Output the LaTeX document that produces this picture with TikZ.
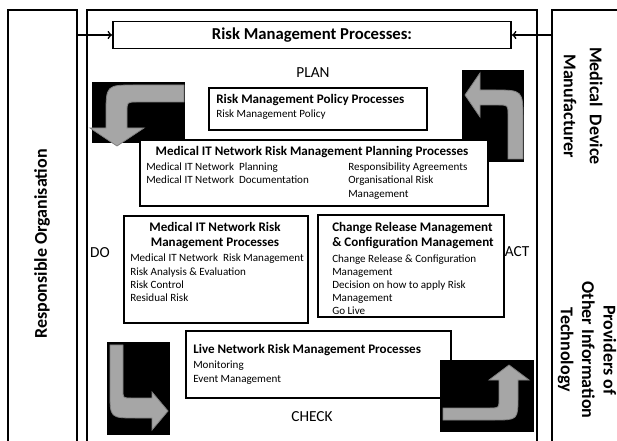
\documentclass[tikz,border=0pt]{standalone}
\usepackage{fontspec}
\setmainfont{Carlito}
\usetikzlibrary{arrows}

\begin{document}
\begin{tikzpicture}[x=0.75pt,y=-0.75pt,
  frame/.style={line width=1.4pt},
  box/.style={draw,line width=1.4pt,fill=white,inner sep=0pt,anchor=north west},
  blk/.style={fill=black},
  garrow/.style={fill=black!35,draw=black!50,line width=0.6pt},
  hd/.style={font=\bfseries\fontsize{9.8}{11.3}\selectfont,inner sep=0pt},
  txt/.style={font=\fontsize{8.3}{10.1}\selectfont,inner sep=0pt,align=left},
  lbl/.style={font=\fontsize{11.5}{13}\selectfont,inner sep=0pt},
  side/.style={font=\bfseries\fontsize{13.5}{16}\selectfont,inner sep=0pt,align=center}]

  \useasboundingbox (0,0) rectangle (617,441);

  \draw[frame] (8,446) -- (8,10) -- (77,10) -- (77,446);
  \draw[frame] (87,446) -- (87,10) -- (537,10) -- (537,446);
  \draw[frame] (552,446) -- (552,10) -- (625,10);

  \node[side,rotate=90] (resp) at (42,244) {Responsible Organisation};
  \node[side,rotate=-90] (manu) at (583,106) {Medical\ \ Device\\[3.5pt]Manufacturer};
  \node[side,rotate=-90] (prov) at (587,350) {Providers of\\Other Information\\Technology};

  \node[draw,line width=1.4pt,inner sep=0pt,minimum width=298.5pt,minimum height=20.25pt,
    font=\bfseries\fontsize{12.5}{14}\selectfont] (title) at (312,35) {Risk Management Processes:};
  \coordinate (respE) at (77,35);
  \coordinate (manuW) at (552,35);
  \draw[->,line width=1.2pt] (respE) -- (title.west);
  \draw[->,line width=1.2pt] (manuW) -- (title.east);

  \node[lbl] (planlbl) at (313,73) {PLAN};
  \node[lbl] (dolbl) at (100,253) {DO};
  \node[lbl] (actlbl) at (517,252) {ACT};
  \node[lbl] (checklbl) at (312,417) {CHECK};

  % plan corners
  \fill[blk] (92,82) rectangle (185,143);
  \draw[garrow] (184,85) -- (136,85) .. controls (106,85) .. (106,115) -- (106,128) -- (90,128)
    -- (117,146) -- (144,128) -- (127,128) -- (127,112) .. controls (127,102) .. (137,102) -- (184,102) -- cycle;
  \fill[blk] (462,70) rectangle (524,162);
  \draw[garrow] (508,159) -- (508,115) .. controls (508,105) .. (498,105) -- (480,105) -- (480,117)
    -- (465,95) -- (480,73) -- (480,90) -- (493,90) .. controls (523,90) .. (523,120) -- (523,159) -- cycle;

  \node[box,minimum width=163.5pt,minimum height=31.5pt] (policy) at (208,87) {};
  \node[hd,anchor=west] (policyhd) at (216,100) {Risk Management Policy Processes};
  \node[txt,anchor=west] (policytx) at (216,115) {Risk Management Policy};

  \node[box,minimum width=261pt,minimum height=49.5pt] (plan) at (139,139) {};
  \node[hd] (planhd) at (312,152) {Medical IT Network Risk Management Planning Processes};
  \node[txt,anchor=north west] (planl) at (146,162.5) {Medical IT Network\ \ Planning\\Medical IT Network\ \ Documentation};
  \node[txt,anchor=north west] (planr) at (348,162.5) {Responsibility Agreements\\Organisational Risk\\Management};

  \node[box,minimum width=138pt,minimum height=80.25pt] (dobox) at (123,215) {};
  \node[hd,align=center,anchor=north] (dohd) at (215,222) {Medical IT Network Risk\\Management Processes};
  \node[txt,anchor=north west,font=\fontsize{8.3}{9.8}\selectfont] (dotx) at (130,254) {Medical IT Network\ \ Risk Management\\Risk Analysis \& Evaluation\\Risk Control\\Residual Risk};

  \node[box,minimum width=139.5pt,minimum height=76.5pt] (actbox) at (317,214) {};
  \node[hd,align=left,anchor=north west] (acthd) at (332,222) {Change Release Management\\\& Configuration Management};
  \node[txt,anchor=north west,font=\fontsize{8.3}{9.6}\selectfont] (acttx) at (332,255) {Change Release \& Configuration\\Management\\Decision on how to apply Risk\\Management\\Go Live};

  \node[box,minimum width=198.75pt,minimum height=50.25pt] (live) at (185,330) {};
  \node[hd,anchor=west] (livehd) at (193,350) {Live Network Risk Management Processes};
  \node[txt,anchor=north west] (livetx) at (193,361) {Monitoring\\Event Management};

  % check corners
  \fill[blk] (107,342) rectangle (170,435);
  \draw[garrow] (110,345) -- (123,345) -- (123,390) .. controls (123,398) .. (131,398) -- (152,398) -- (152,392)
    -- (168,411) -- (152,430) -- (152,418) -- (136,418) .. controls (110,418) .. (110,392) -- cycle;
  \fill[blk] (440,360) rectangle (534,432);
  \draw[garrow] (443,408) -- (490,408) .. controls (499,408) .. (499,399) -- (499,380) -- (489,380)
    -- (509,365) -- (529,380) -- (518,380) -- (518,396) .. controls (518,420) .. (494,420) -- (443,420) -- cycle;
\end{tikzpicture}
\end{document}
